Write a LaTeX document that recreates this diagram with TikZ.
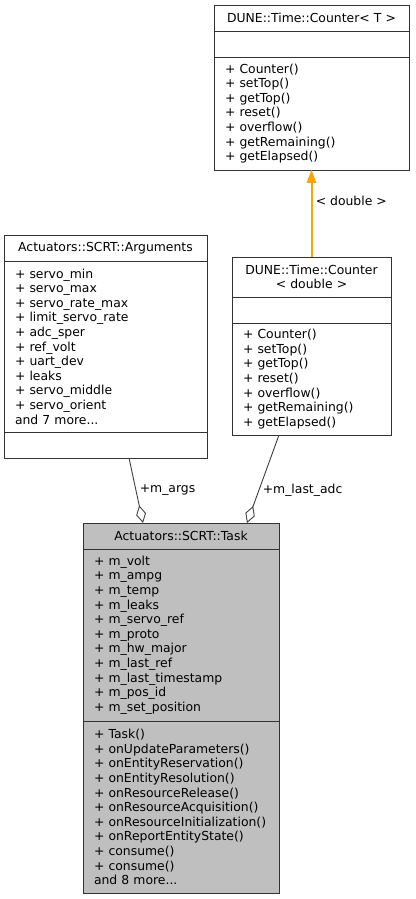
\documentclass[tikz,border=0pt]{standalone}
\usepackage{fontspec}
\setmainfont{DejaVu Sans}
\usetikzlibrary{positioning,arrows.meta}
\definecolor{edgegray}{HTML}{404040}
\definecolor{edgeorange}{HTML}{FFA500}
\newcommand{\umlfont}{\fontsize{12.4}{14.6}\selectfont}

\begin{document}
\begin{tikzpicture}[x=1pt,y=1pt,
  every node/.style={font=\umlfont},
  part/.style={draw=black!80,line width=0.9pt,fill=white,outer sep=0pt,
    inner xsep=11pt,inner ysep=0pt},
  head/.style={part,align=center},
  body/.style={part,align=left},
  member/.style={draw=edgegray,line width=0.9pt,
    {Diamond[open,length=18pt,width=10pt]}-},
  derived/.style={draw=edgeorange,line width=2pt,
    -{Triangle[length=13pt,width=10pt,line width=0pt]}}]
\useasboundingbox (0,0) rectangle (415,899);

% DUNE::Time::Counter< T >
\node[head,text width=173pt,minimum height=26pt,anchor=north west] (cntT) at (214,894) {DUNE::Time::Counter< T >};
\node[body,text width=173pt,minimum height=26pt,below=0pt of cntT] (cntTa) {};
\node[body,text width=173pt,minimum height=113pt,below=0pt of cntTa] (cntTm)
  {+ Counter()\\+ setTop()\\+ getTop()\\+ reset()\\+ overflow()\\+ getRemaining()\\+ getElapsed()};

% Actuators::SCRT::Arguments
\node[head,text width=181pt,minimum height=26pt,anchor=north west] (args) at (4,664) {Actuators::SCRT::Arguments};
\node[body,text width=181pt,minimum height=171pt,below=0pt of args] (argsA)
  {+ servo\_min\\+ servo\_max\\+ servo\_rate\_max\\+ limit\_servo\_rate\\+ adc\_sper\\+ ref\_volt\\+ uart\_dev\\+ leaks\\+ servo\_middle\\+ servo\_orient\\and 7 more...};
\node[body,text width=181pt,minimum height=26pt,below=0pt of argsA] (argsM) {};

% DUNE::Time::Counter< double >
\node[head,text width=137pt,minimum height=40pt,anchor=north west] (cntD) at (232,642) {DUNE::Time::Counter\\< double >};
\node[body,text width=137pt,minimum height=26pt,below=0pt of cntD] (cntDa) {};
\node[body,text width=137pt,minimum height=112pt,below=0pt of cntDa] (cntDm)
  {+ Counter()\\+ setTop()\\+ getTop()\\+ reset()\\+ overflow()\\+ getRemaining()\\+ getElapsed()};

% Actuators::SCRT::Task
\node[head,fill=black!25,text width=174pt,minimum height=26pt,anchor=north west] (task) at (83,376) {Actuators::SCRT::Task};
\node[body,fill=black!25,text width=174pt,minimum height=172pt,below=0pt of task] (taskA)
  {+ m\_volt\\+ m\_ampg\\+ m\_temp\\+ m\_leaks\\+ m\_servo\_ref\\+ m\_proto\\+ m\_hw\_major\\+ m\_last\_ref\\+ m\_last\_timestamp\\+ m\_pos\_id\\+ m\_set\_position};
\node[body,fill=black!25,text width=174pt,minimum height=172pt,below=0pt of taskA] (taskM)
  {+ Task()\\+ onUpdateParameters()\\+ onEntityReservation()\\+ onEntityResolution()\\+ onResourceRelease()\\+ onResourceAcquisition()\\+ onResourceInitialization()\\+ onReportEntityState()\\+ consume()\\+ consume()\\and 8 more...};

% edges
\draw[derived] (cntD.north) -- node[pos=0.65,right,text=black] {< double >} (cntTm.south);
\draw[member] ([xshift=60pt]task.north west) -- node[pos=0.5,right] {+m\_args} ([xshift=125pt]argsM.south west);
\draw[member] ([xshift=164pt]task.north west) -- node[pos=0.375,right] {+m\_last\_adc} ([xshift=47pt]cntDm.south west);
\end{tikzpicture}
\end{document}
